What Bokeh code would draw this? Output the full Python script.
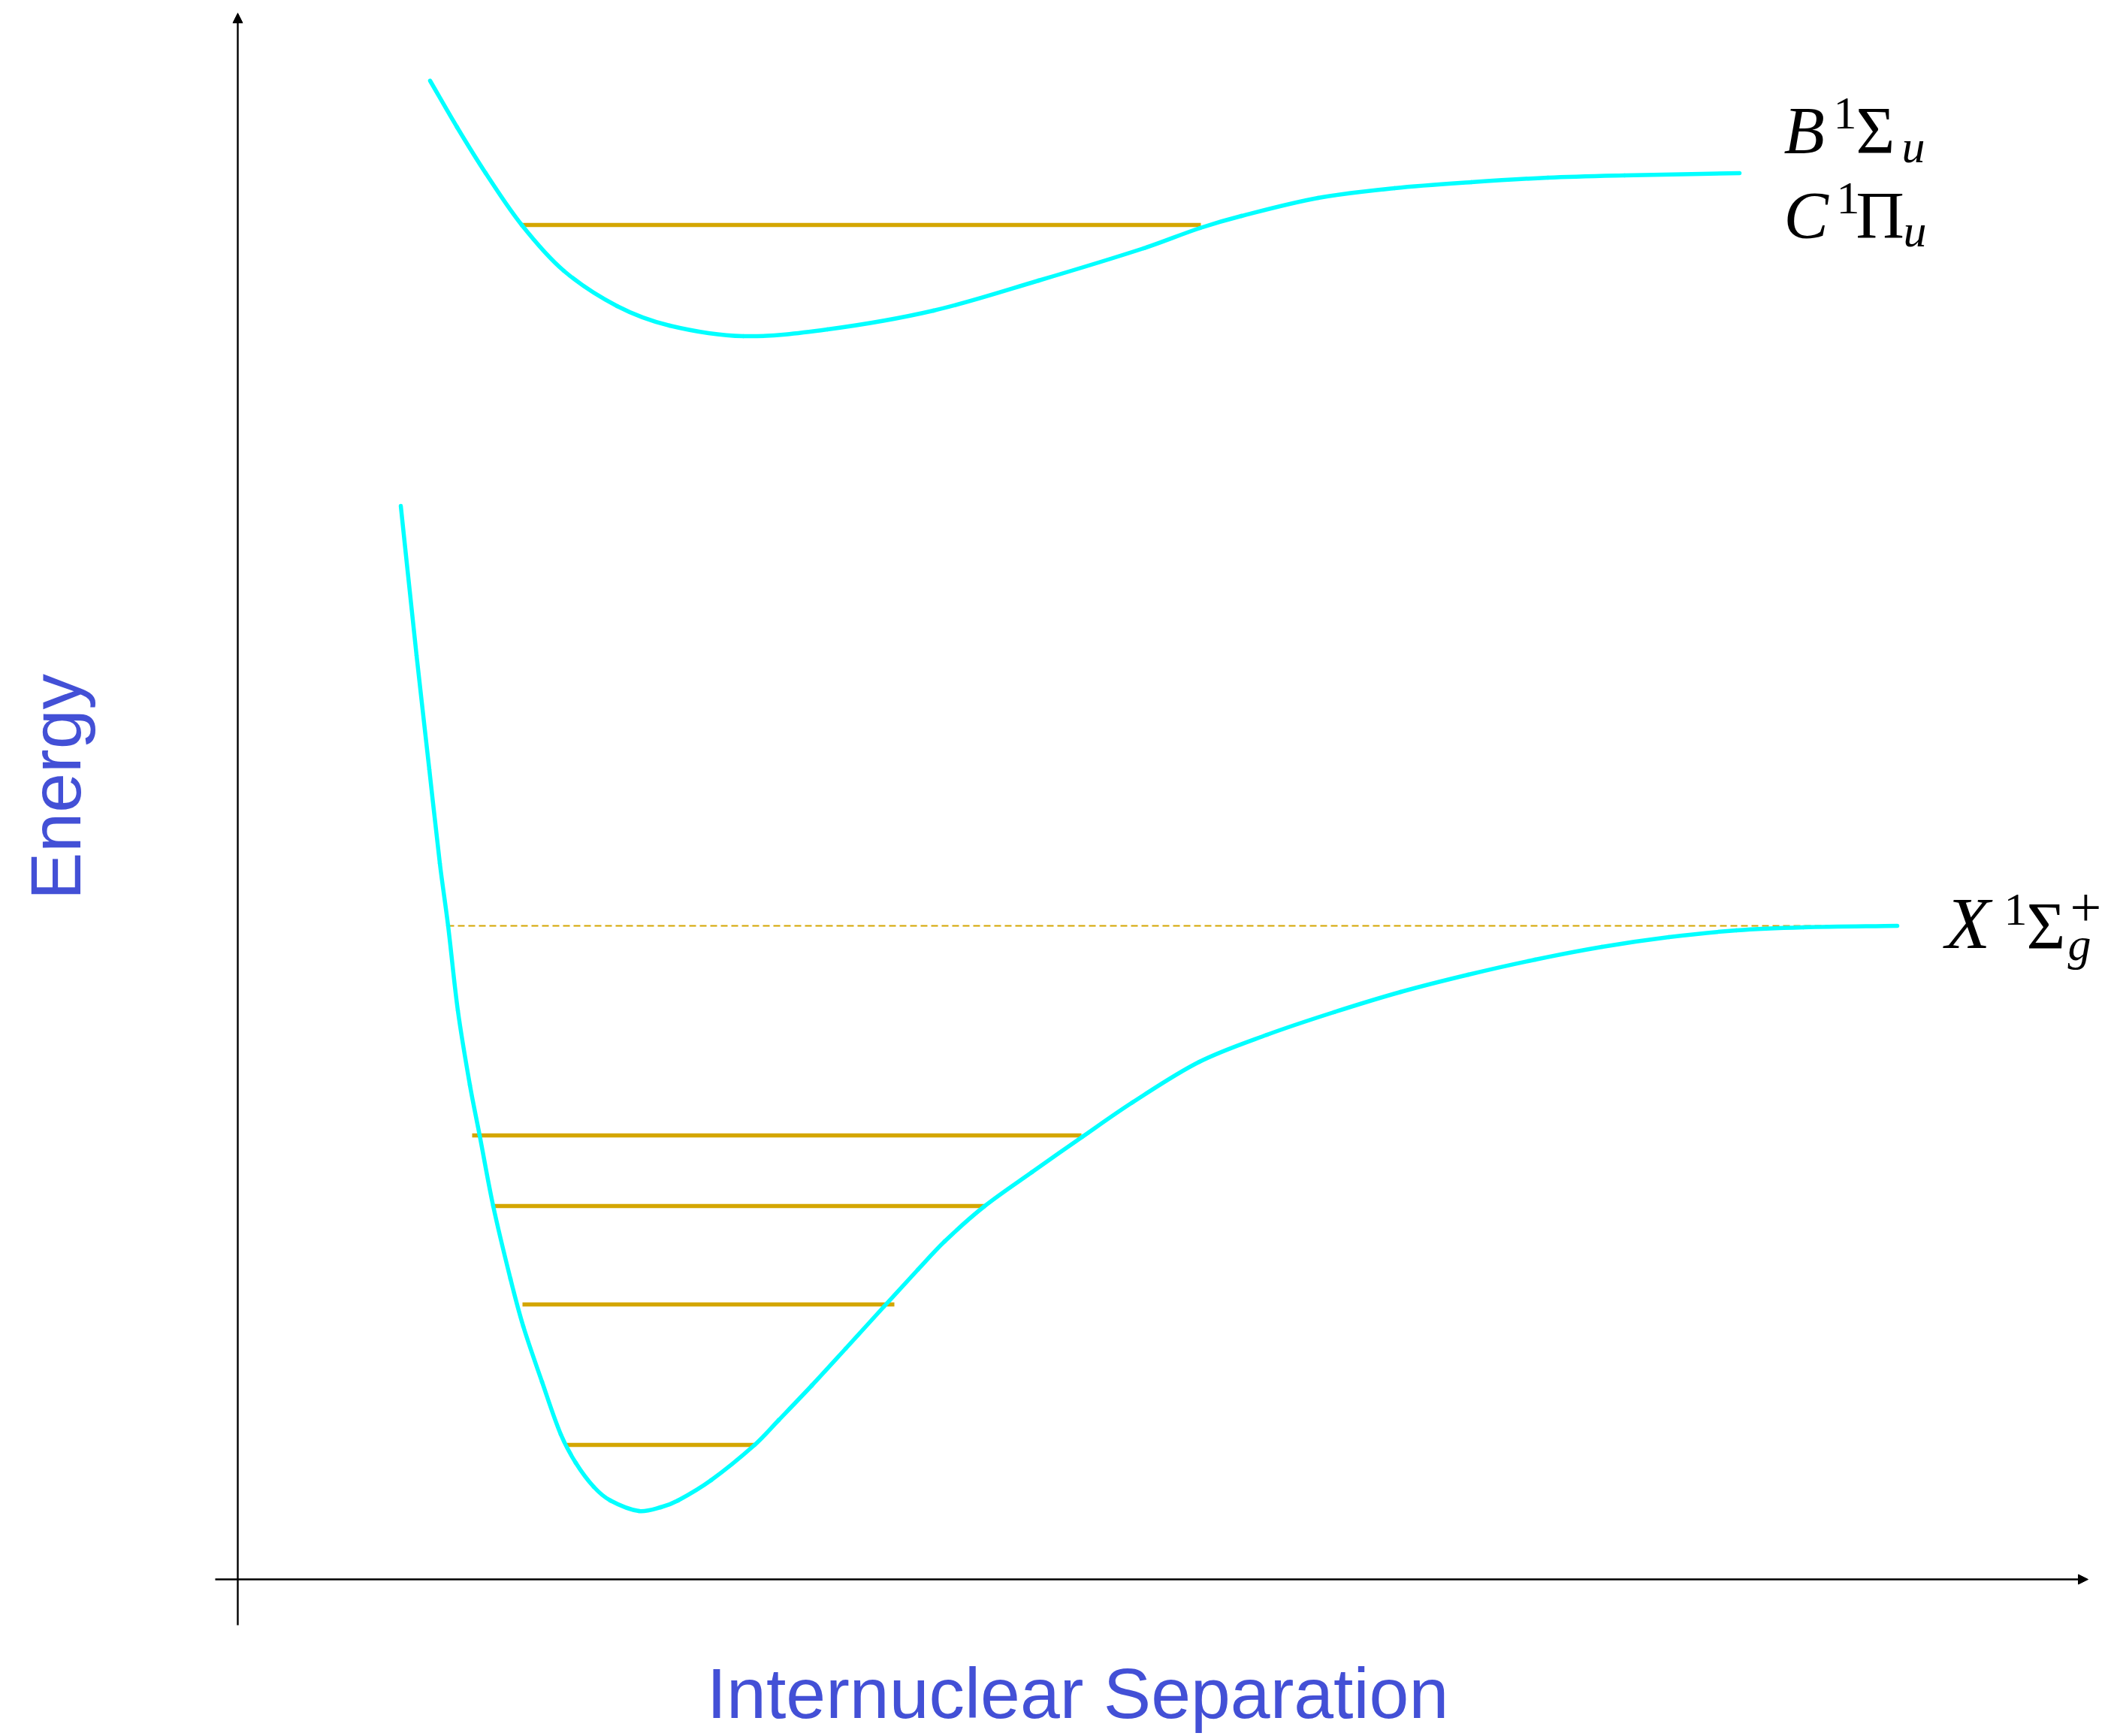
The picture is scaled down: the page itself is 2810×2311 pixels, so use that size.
import math
from bokeh.plotting import figure
from bokeh.models import Range1d, Arrow, NormalHead, Label
from bokeh.embed import file_html
from bokeh.resources import INLINE

# ---------------- data (arbitrary units) ----------------
# Ground state X^1Sigma_g^+ potential curve
x_sep = [2.17, 2.38, 2.55, 2.69, 2.80, 2.93, 3.09, 3.22, 3.40, 3.63, 3.80, 4.05,
         4.30, 4.50, 4.74, 4.96, 5.34, 5.63, 5.86, 6.30, 6.88, 7.20, 7.64,
         8.09, 8.60, 9.05, 9.41, 9.93, 10.57, 11.24, 11.91, 12.80, 13.70, 14.59,
         15.48, 16.38, 17.27, 18.16, 19.05, 19.95, 20.84, 22.09]
x_energy = [14.29, 12.30, 10.78, 9.53, 8.70, 7.57, 6.58, 5.91, 4.97, 4.00, 3.37, 2.63,
            1.93, 1.55, 1.23, 1.05, 0.91, 0.96, 1.05, 1.32, 1.79, 2.12, 2.58,
            3.07, 3.63, 4.12, 4.50, 4.96, 5.42, 5.89, 6.35, 6.89, 7.25, 7.55,
            7.82, 8.05, 8.25, 8.42, 8.55, 8.64, 8.68, 8.70]

# Excited states B^1Sigma_u / C^1Pi_u potential curve
bc_sep = [2.56, 2.92, 3.30, 3.78, 4.34, 5.05, 5.75, 6.73, 7.85, 9.26, 10.66, 12.06,
          12.81, 13.36, 14.38, 15.40, 16.42, 17.44, 18.46, 19.99]
bc_energy = [19.95, 19.33, 18.72, 18.03, 17.42, 16.95, 16.69, 16.55, 16.64, 16.89,
             17.29, 17.72, 17.99, 18.15, 18.39, 18.52, 18.60, 18.66, 18.69, 18.72]

# Vibrational levels of ground state
x_level_energy = [5.91, 4.97, 3.66, 1.79]
x_level_left = [3.12, 3.41, 3.79, 4.37]
x_level_right = [11.23, 9.94, 8.74, 6.88]

# Vibrational level of excited state
bc_level_energy = [18.03]
bc_level_left = [3.78]
bc_level_right = [12.82]

# Dissociation limit of ground state
dissoc_energy = 8.70
dissoc_left = 2.79
dissoc_right = 21.46

# ---------------- styling ----------------
CYAN = "#00FFFF"
GOLD = "#D4A600"
BLUE = "#4350D6"
SERIF = "Liberation Serif"

p = figure(width=2810, height=2311, output_backend="svg", toolbar_location=None,
           x_range=Range1d(-3.16, 24.94), y_range=Range1d(-2.09, 21.02),
           x_axis_location=None, y_axis_location=None, min_border=0)
p.grid.visible = False
p.outline_line_color = None
p.background_fill_color = "white"
p.border_fill_color = "white"

# axes with arrows
p.add_layout(Arrow(end=NormalHead(size=13, fill_color="black", line_color="black", line_width=1),
                   x_start=0, y_start=-0.61, x_end=0, y_end=20.85,
                   line_color="black", line_width=2.4))
p.add_layout(Arrow(end=NormalHead(size=13, fill_color="black", line_color="black", line_width=1),
                   x_start=-0.30, y_start=0, x_end=24.63, y_end=0,
                   line_color="black", line_width=2.4))

# dissociation limit
p.line([dissoc_left, dissoc_right], [dissoc_energy, dissoc_energy],
       line_color=GOLD, line_width=2.2, line_dash="9 5")

# vibrational levels
p.segment(x0=x_level_left, y0=x_level_energy, x1=x_level_right, y1=x_level_energy,
          line_color=GOLD, line_width=5.5)
p.segment(x0=bc_level_left, y0=bc_level_energy, x1=bc_level_right, y1=bc_level_energy,
          line_color=GOLD, line_width=5.5)


def smooth_curve(xs, ys, width):
    """Smooth curve through the read points (chord-length Catmull-Rom as cubic Beziers)."""
    n = len(xs)
    t = [0.0]
    for i in range(1, n):
        t.append(t[-1] + math.hypot(xs[i] - xs[i - 1], ys[i] - ys[i - 1]))
    mx, my = [], []
    for i in range(n):
        a = max(i - 1, 0)
        b = min(i + 1, n - 1)
        dt = t[b] - t[a]
        mx.append((xs[b] - xs[a]) / dt)
        my.append((ys[b] - ys[a]) / dt)
    x0, y0, x1, y1, cx0, cy0, cx1, cy1 = ([] for _ in range(8))
    for i in range(n - 1):
        h = (t[i + 1] - t[i]) / 3.0
        x0.append(xs[i]); y0.append(ys[i])
        x1.append(xs[i + 1]); y1.append(ys[i + 1])
        cx0.append(xs[i] + mx[i] * h)
        cy0.append(ys[i] + my[i] * h)
        cx1.append(xs[i + 1] - mx[i + 1] * h)
        cy1.append(ys[i + 1] - my[i + 1] * h)
    p.bezier(x0=x0, y0=y0, x1=x1, y1=y1, cx0=cx0, cy0=cy0, cx1=cx1, cy1=cy1,
             line_color=CYAN, line_width=width, line_cap="round")


smooth_curve(x_sep, x_energy, 5.5)
smooth_curve(bc_sep, bc_energy, 5.5)

SHIFT = 0.335  # baseline correction, in em


def X(px):
    return (px - 316) / 100.0


def Y(py):
    return (2102 - py) / 100.0


# axis titles
p.add_layout(Label(x=X(1434), y=Y(2285 - SHIFT * 95), text="Internuclear Separation",
                   text_align="center", text_baseline="alphabetic",
                   text_font="Liberation Sans", text_font_size="95px", text_color=BLUE))
p.add_layout(Label(x=X(105 - SHIFT * 95), y=Y(1047), text="Energy", text_align="center",
                   angle=math.pi / 2, text_baseline="alphabetic",
                   text_font="Liberation Sans", text_font_size="95px", text_color=BLUE))


def piece(px, py, txt, size, italic=False):
    p.add_layout(Label(x=X(px), y=Y(py - SHIFT * size), text=txt, text_align="left",
                       text_baseline="alphabetic", text_font=SERIF,
                       text_font_size=f"{size}px",
                       text_font_style="italic" if italic else "normal",
                       text_color="black"))


BIG = 89
SMALL = 62
# B^1 Sigma_u
piece(2374, 202, "B", BIG, True)
piece(2440, 171, "1", SMALL)
piece(2470, 202, "Σ", BIG)
piece(2531, 215, "u", SMALL, True)
# C^1 Pi_u
piece(2374, 315, "C", BIG, True)
piece(2444, 284, "1", SMALL)
piece(2470, 315, "Π", BIG)
piece(2533, 327, "u", SMALL, True)
# X^1 Sigma_g^+
piece(2589, 1261, "X", 98, True)
piece(2667, 1231, "1", SMALL)
piece(2697, 1261, "Σ", BIG)
piece(2755, 1233, "+", 74)
piece(2752, 1277, "g", SMALL, True)

open("out.html", "w").write(file_html(p, INLINE))
